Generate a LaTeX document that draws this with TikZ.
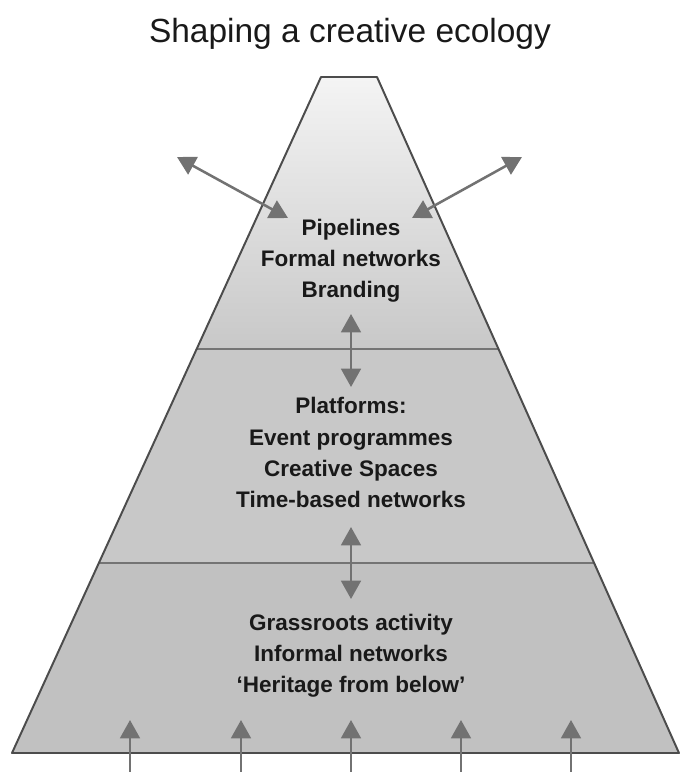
\documentclass[tikz,border=0pt]{standalone}
\usepackage{fontspec}
\setmainfont{Liberation Sans}
\usetikzlibrary{arrows.meta}
\definecolor{arrowgray}{HTML}{727272}
\definecolor{rimgray}{HTML}{4C4C4C}
\definecolor{linegray}{HTML}{747474}
\definecolor{topgray}{HTML}{F4F4F4}
\definecolor{midgray}{HTML}{C8C8C8}
\definecolor{lowgray}{HTML}{C1C1C1}

\begin{document}
\begin{tikzpicture}[x=0.025cm,y=-0.025cm]
\useasboundingbox (0,0) rectangle (680,772);
\tikzset{edge/.style = {<->,> = {Triangle[width=14pt,length=13pt]}, line width=1.8pt, draw=arrowgray, fill=arrowgray}}
\tikzset{up/.style = {edge,<-}}
\tikzset{label/.style = {anchor=base, font=\bfseries\fontsize{16}{19}\selectfont, text=black!90}}
%title
\node[anchor=base, font=\fontsize{23.8}{28}\selectfont, text=black!90] (title) at (350,42) {Shaping a creative ecology};
%top band, fading down
\shade[top color=topgray, bottom color=midgray] (321,77) -- (377,77) -- (498.5,349) -- (196.7,349) -- cycle;
%middle band
\fill[midgray] (196.7,349) -- (498.5,349) -- (594.1,563) -- (98.8,563) -- cycle;
%bottom band
\fill[lowgray] (98.8,563) -- (594.1,563) -- (679,753) -- (12,753) -- cycle;
%band borders
\draw[linegray, line width=1.5pt] (196.7,349) -- (498.5,349);
\draw[linegray, line width=1.5pt] (98.8,563) -- (594.1,563);
\draw[rimgray, line width=1.4pt, line join=round] (321,77) -- (377,77) -- (679,753) -- (12,753) -- cycle;
%texts
\node[label] (pipe) at (351,235) {Pipelines};
\node[label] (formal) at (351,266) {Formal networks};
\node[label] (brand) at (351,297) {Branding};
\node[label] (plat) at (351,413) {Platforms:};
\node[label] (event) at (351,445) {Event programmes};
\node[label] (spaces) at (351,476) {Creative Spaces};
\node[label] (time) at (351,507) {Time-based networks};
\node[label] (grass) at (351,630) {Grassroots activity};
\node[label] (informal) at (351,661) {Informal networks};
\node[label] (below) at (351,692) {`Heritage from below'};
%arrows out of the top
\coordinate (nw) at (177,157); \coordinate (nwin) at (288,218);
\coordinate (ne) at (522,157); \coordinate (nein) at (412,218);
\draw[edge] (nw) -- (nwin);
\draw[edge] (ne) -- (nein);
%arrows across the borders
\coordinate (b1) at (351,314); \coordinate (b1s) at (351,387);
\coordinate (b2) at (351,527); \coordinate (b2s) at (351,599);
\draw[edge] (b1) -- (b1s);
\draw[edge] (b2) -- (b2s);
%arrows coming up from below
\coordinate (r1) at (130,772); \coordinate (r1t) at (130,720); \draw[up] (r1t) -- (r1);
\coordinate (r2) at (241,772); \coordinate (r2t) at (241,720); \draw[up] (r2t) -- (r2);
\coordinate (r3) at (351,772); \coordinate (r3t) at (351,720); \draw[up] (r3t) -- (r3);
\coordinate (r4) at (461,772); \coordinate (r4t) at (461,720); \draw[up] (r4t) -- (r4);
\coordinate (r5) at (571,772); \coordinate (r5t) at (571,720); \draw[up] (r5t) -- (r5);
\end{tikzpicture}
\end{document}
